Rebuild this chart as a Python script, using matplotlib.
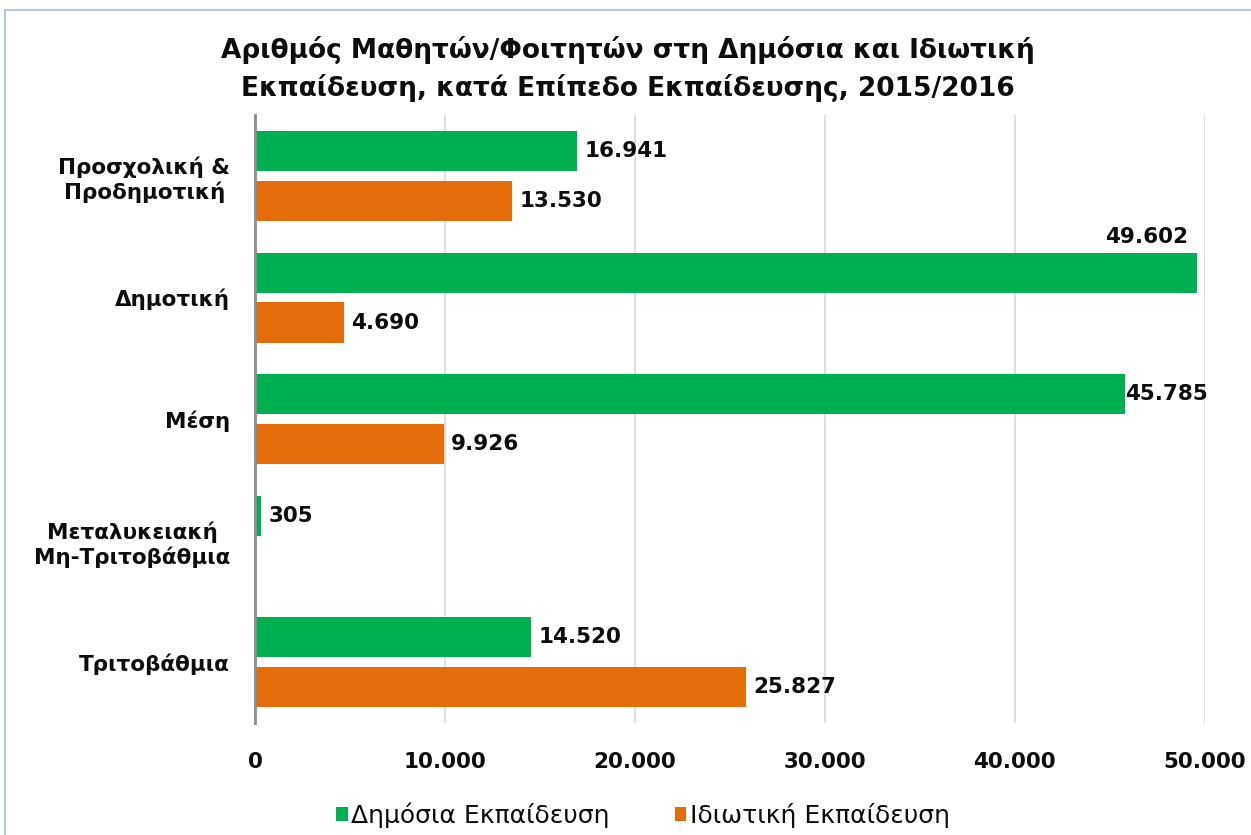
#!/usr/bin/env python3
"""Μαθητές/φοιτητές σε δημόσια και ιδιωτική εκπαίδευση, 2015/2016."""

import matplotlib
matplotlib.use("Agg")
import matplotlib.pyplot as plt
from matplotlib.patches import Rectangle
from matplotlib.ticker import FuncFormatter
import numpy as np

categories = [
    "Προσχολική &\nΠροδημοτική",
    "Δημοτική",
    "Μέση",
    "Μεταλυκειακή\nΜη-Τριτοβάθμια",
    "Τριτοβάθμια",
]
public = [16941, 49602, 45785, 305, 14520]
private = [13530, 4690, 9926, 0, 25827]
series_names = ["Δημόσια Εκπαίδευση", "Ιδιωτική Εκπαίδευση"]
x_ticks = [0, 10000, 20000, 30000, 40000, 50000]

GREEN = "#00b050"
ORANGE = "#e46c0a"
TEXT = "#0d0d0d"
GRID = "#d9d9d9"
FS = 15.5


def dotted(v, _pos=None):
    return f"{int(round(v)):,}".replace(",", ".")


fig = plt.figure(figsize=(12.51, 8.35), dpi=100)
fig.patch.set_facecolor("white")
ax = fig.add_axes([0.204, 0.134, 0.759, 0.728])

y = np.arange(len(categories))
h = 0.33
off = 0.205
ax.barh(y - off, public, height=h, color=GREEN, label=series_names[0], zorder=3)
ax.barh(y + off, private, height=h, color=ORANGE, label=series_names[1], zorder=3)

ax.set_ylim(len(categories) - 0.5, -0.5)
ax.set_xlim(0, 50000)
ax.set_xticks(x_ticks)
ax.xaxis.set_major_formatter(FuncFormatter(dotted))
ax.set_yticks(y)
ax.set_yticklabels(categories, fontsize=FS, fontweight="bold", color=TEXT, ha="right",
                   multialignment="center")
ax.tick_params(axis="y", length=0, pad=18)
ax.tick_params(axis="x", length=0, pad=21, labelsize=FS, labelcolor=TEXT)
for t in ax.get_xticklabels():
    t.set_fontweight("bold")

ax.grid(axis="x", color=GRID, linewidth=1.2, zorder=0)
for s in ["top", "right", "bottom"]:
    ax.spines[s].set_visible(False)
ax.spines["left"].set_color("#8c8c8c")
ax.spines["left"].set_linewidth(2)
ax.spines["left"].set_zorder(4)

# data labels
lab = dict(fontsize=FS, fontweight="bold", color=TEXT, va="center")
for i, v in enumerate(public):
    if i == 1:
        ax.text(v - 500, i - off - 0.295, dotted(v), ha="right", **lab)
    elif i == 2:
        ax.text(v + 20, i - off, dotted(v), ha="left", **lab)
    else:
        ax.text(v + 380, i - off, dotted(v), ha="left", **lab)
for i, v in enumerate(private):
    if v > 0:
        ax.text(v + 380, i + off, dotted(v), ha="left", **lab)

fig.text(0.502, 0.917, "Αριθμός Μαθητών/Φοιτητών στη Δημόσια και Ιδιωτική\n"
         "Εκπαίδευση, κατά Επίπεδο Εκπαίδευσης, 2015/2016",
         ha="center", va="center", fontsize=19, fontweight="bold", color=TEXT,
         linespacing=1.45)

leg = fig.legend(loc="center", bbox_to_anchor=(0.514, 0.024), ncol=2, frameon=False,
                 fontsize=18, handlelength=0.45, handleheight=0.45, handletextpad=0.15,
                 columnspacing=2.6, borderaxespad=0)
for t in leg.get_texts():
    t.set_color(TEXT)

# chart frame
fig.add_artist(Rectangle((5 / 1251, -0.05), 1.2, 1 - 10 / 835 + 0.05, transform=fig.transFigure,
                         fill=False, edgecolor="#b4c7e7", linewidth=1.5))

fig.savefig("out.png", dpi=100, facecolor=fig.get_facecolor())
